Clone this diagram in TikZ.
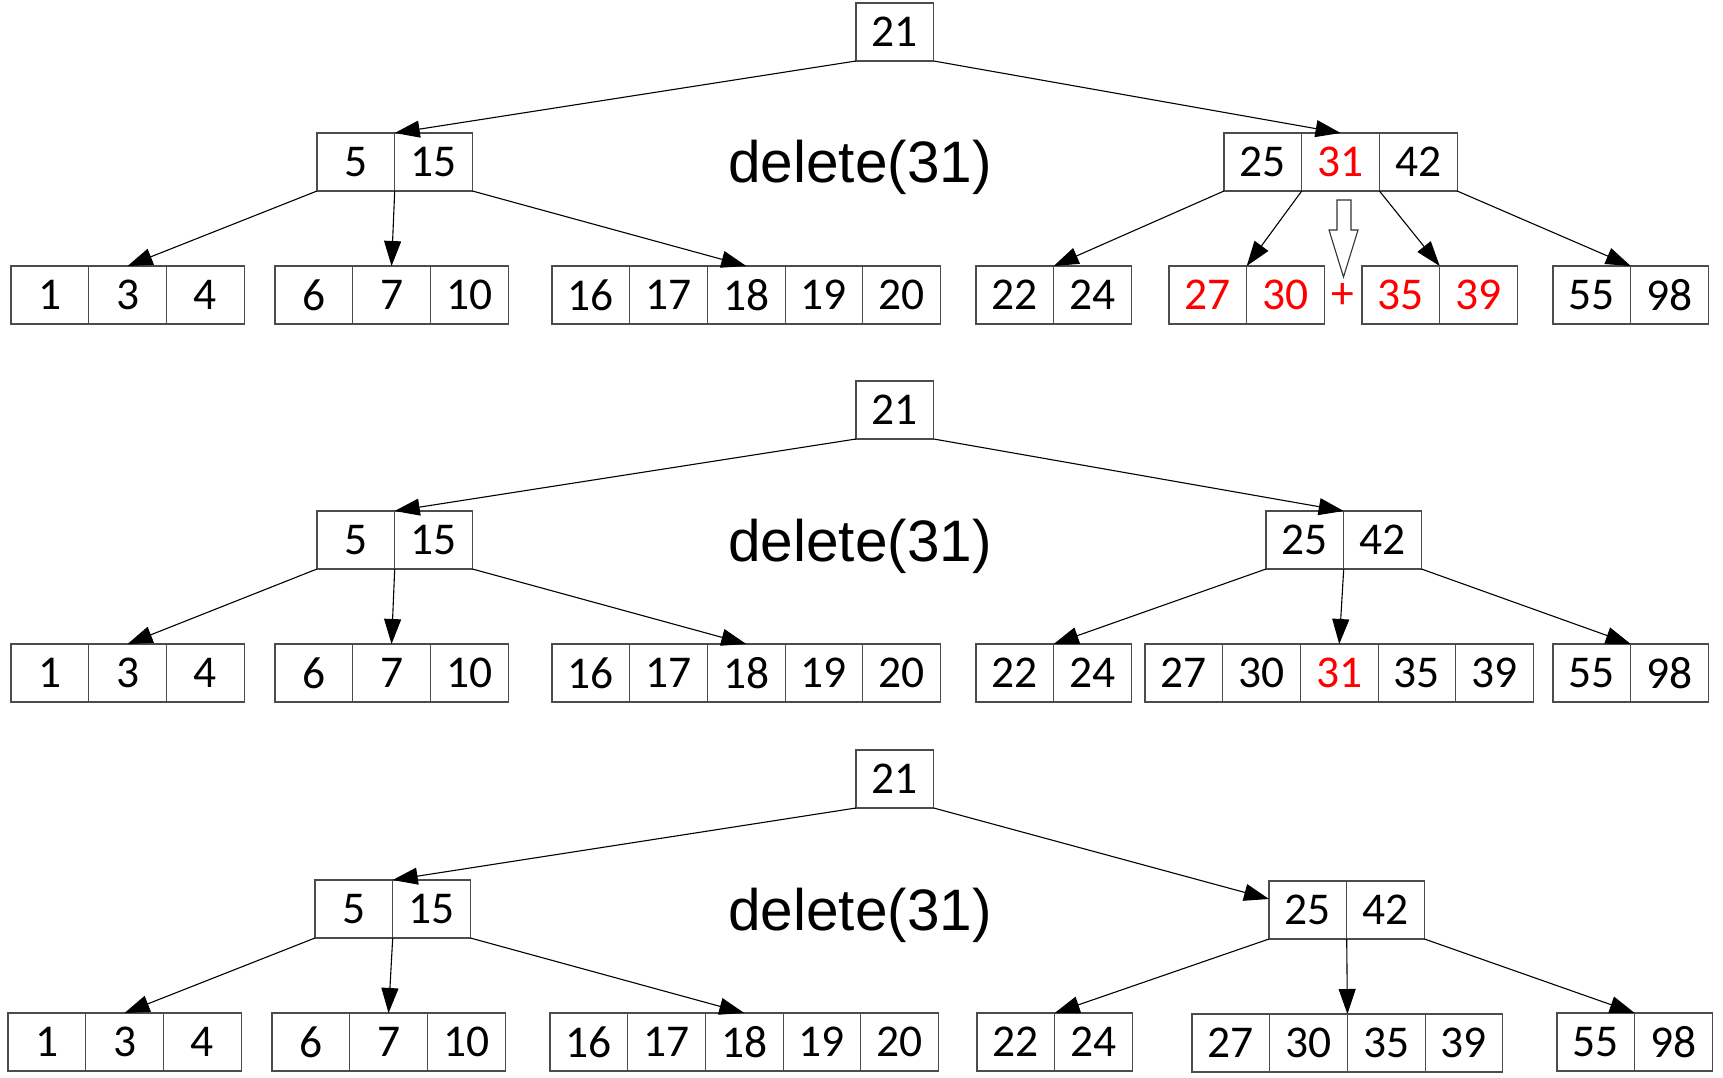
\documentclass[tikz,border=0pt]{standalone}
\usepackage{fontspec}
\setmainfont{Carlito}
\newfontfamily\arialf{Liberation Sans}
\usetikzlibrary{fit,arrows.meta}
\newcommand\R[1]{\textcolor{red}{#1}}
\newcommand\cw{77.7}
\newcommand\bkeys[5]{%
  \foreach \v [count=\i] in {#5} {
    \node[cell] (#1-\i) at ({#2+(\i-1)*\cw+\cw/2},{#3+29}) {\v};
  }
  \node[fitbox, fit=(#1-1) (#1-#4)] (#1) {};
}
\tikzset{
  cell/.style={draw=black!70, line width=1.2pt, minimum width=77.7pt, minimum height=58pt,
    inner sep=0pt, outer sep=0pt, font=\fontsize{45.5}{50}\selectfont, anchor=center},
  fitbox/.style={inner sep=0pt, outer sep=0pt, draw=none},
  arr/.style={-{Triangle[length=25pt,width=17pt]}, line width=1.1pt, black},
  optxt/.style={font=\arialf\fontsize{58.5}{62}\selectfont, anchor=base, inner sep=0pt}
}
\begin{document}
\begin{tikzpicture}[x=1pt,y=-1pt]
\useasboundingbox (0,0) rectangle (1723,1078);
% ---------------- Tree 1 ----------------
\bkeys{r1}{856}{3}{1}{21}
\bkeys{a1}{317}{133}{2}{5,15}
\bkeys{b1}{1224}{133}{3}{25,\R{31},42}
\bkeys{c1}{11}{266}{3}{1,3,4}
\bkeys{d1}{275}{266}{3}{6,7,10}
\bkeys{e1}{552}{266}{5}{16,17,18,19,20}
\bkeys{f1}{976}{266}{2}{22,24}
\bkeys{g1}{1169}{266}{2}{\R{27},\R{30}}
\bkeys{h1}{1362}{266}{2}{\R{35},\R{39}}
\bkeys{i1}{1553}{266}{2}{55,98}
\node[optxt] (t1) at (860,183) {delete(31)};
\node[font=\fontsize{45.5}{50}\selectfont, text=red, inner sep=0pt] (plus) at (1343,296) {+};
\draw[line width=1.1pt, black!80, fill=white] (1337,200) -- (1351,200) -- (1351,230) -- (1358,230)
  -- (1343.5,277) -- (1329,230) -- (1337,230) -- cycle;
\draw[arr] (r1.south west) -- (a1.north);
\draw[arr] (r1.south east) -- (b1.north);
\draw[arr] (a1-1.south west) -- (c1.north);
\draw[arr] (a1-1.south east) -- (d1.north);
\draw[arr] (a1-2.south east) -- (e1.north);
\draw[arr] (b1-1.south west) -- (f1.north);
\draw[arr] (b1-1.south east) -- (g1.north);
\draw[arr] (b1-2.south east) -- (h1.north);
\draw[arr] (b1-3.south east) -- (i1.north);
% ---------------- Tree 2 ----------------
\bkeys{r2}{856}{381}{1}{21}
\bkeys{a2}{317}{511}{2}{5,15}
\bkeys{b2}{1266}{511}{2}{25,42}
\bkeys{c2}{11}{644}{3}{1,3,4}
\bkeys{d2}{275}{644}{3}{6,7,10}
\bkeys{e2}{552}{644}{5}{16,17,18,19,20}
\bkeys{f2}{976}{644}{2}{22,24}
\bkeys{g2}{1145}{644}{5}{27,30,\R{31},35,39}
\bkeys{i2}{1553}{644}{2}{55,98}
\node[optxt] (t2) at (860,561) {delete(31)};
\draw[arr] (r2.south west) -- (a2.north);
\draw[arr] (r2.south east) -- (b2.north);
\draw[arr] (a2-1.south west) -- (c2.north);
\draw[arr] (a2-1.south east) -- (d2.north);
\draw[arr] (a2-2.south east) -- (e2.north);
\draw[arr] (b2-1.south west) -- (f2.north);
\draw[arr] (b2-1.south east) -- (g2.north);
\draw[arr] (b2-2.south east) -- (i2.north);
% ---------------- Tree 3 ----------------
\bkeys{r3}{856}{750}{1}{21}
\bkeys{a3}{315}{880}{2}{5,15}
\bkeys{b3}{1269}{881}{2}{25,42}
\bkeys{c3}{8}{1013}{3}{1,3,4}
\bkeys{d3}{272}{1013}{3}{6,7,10}
\bkeys{e3}{550}{1013}{5}{16,17,18,19,20}
\bkeys{f3}{977}{1013}{2}{22,24}
\bkeys{g3}{1192}{1014}{4}{27,30,35,39}
\bkeys{i3}{1557}{1013}{2}{55,98}
\node[optxt] (t3) at (860,930) {delete(31)};
\coordinate (b3in) at ([yshift=-18pt]b3.north west);
\draw[arr] (r3.south west) -- (a3.north);
\draw[arr] (r3.south east) -- (b3in);
\draw[arr] (a3-1.south west) -- (c3.north);
\draw[arr] (a3-1.south east) -- (d3.north);
\draw[arr] (a3-2.south east) -- (e3.north);
\draw[arr] (b3-1.south west) -- (f3.north);
\draw[arr] (b3-1.south east) -- (g3.north);
\draw[arr] (b3-2.south east) -- (i3.north);
\end{tikzpicture}
\end{document}
